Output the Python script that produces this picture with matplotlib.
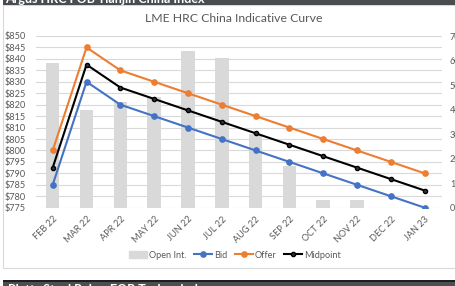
import matplotlib.pyplot as plt
from matplotlib.patches import Rectangle
from matplotlib.lines import Line2D

plt.rcParams['font.family'] = ['Lato', 'DejaVu Sans']

months = ['FEB 22', 'MAR 22', 'APR 22', 'MAY 22', 'JUN 22', 'JUL 22',
          'AUG 22', 'SEP 22', 'OCT 22', 'NOV 22', 'DEC 22', 'JAN 23']
open_int = [59, 40, 43, 45, 64, 61, 30, 17, 3, 3, 0, 0]
bid = [785, 830, 820, 815, 810, 805, 800, 795, 790, 785, 780, 775]
offer = [800, 845, 835, 830, 825, 820, 815, 810, 805, 800, 795, 790]
midpoint = [792.5, 837.5, 827.5, 822.5, 817.5, 812.5, 807.5, 802.5, 797.5, 792.5, 787.5, 782.5]

W, H = 456, 286
fig = plt.figure(figsize=(W / 100, H / 100), dpi=100)

def fx(px):
    return px / W

def fy(py):
    return 1 - py / H

# panel border + header bars (behind the axes)
fig.patches.append(Rectangle((fx(3), fy(267.5)), fx(460), fy(5) - fy(267.5),
                             transform=fig.transFigure, facecolor='white',
                             edgecolor='#d9d9d9', lw=0.8, zorder=-5))
fig.patches.append(Rectangle((fx(3), fy(5)), 1, fy(0) - fy(5) + 0.05,
                             transform=fig.transFigure, facecolor='#4a4d50', lw=0, zorder=-5))
fig.patches.append(Rectangle((fx(3), 0), 1, fy(280.5),
                             transform=fig.transFigure, facecolor='#4a4f52', lw=0, zorder=-5))
fig.patches.append(Rectangle((fx(3), fy(281.5)), 1, fy(280.3) - fy(281.5),
                             transform=fig.transFigure, facecolor='#1e1e1e', lw=0, zorder=-5))
fig.text(fx(5), fy(3.0), 'Argus HRC FOB Tianjin China Index', color='white',
         fontsize=9, fontweight='bold', va='baseline', ha='left')
fig.text(fx(8), fy(283.5), 'Platts Steel Rebar FOB Turkey index', color='white',
         fontsize=9, fontweight='bold', va='top', ha='left')

left, right = fx(35.8), fx(441.6)
bottom, top = fy(207.7), fy(36)
rect = [left, bottom, right - left, top - bottom]

lab = 6.6
ax = fig.add_axes(rect)
ax.set_facecolor('none')
x = range(len(months))
ax.set_xlim(-0.5, len(months) - 0.5)
ax.set_ylim(775, 850)
ax.set_yticks(range(775, 851, 5))
ax.set_yticklabels([f'${v}' for v in range(775, 851, 5)])
ax.grid(axis='y', color='#d9d9d9', lw=0.8)
ax.set_xticks(list(x))
ax.set_xticklabels(months, rotation=45, ha='right', rotation_mode='anchor')
for s in ax.spines.values():
    s.set_visible(False)
ax.tick_params(axis='y', length=0, pad=7, labelsize=lab, labelcolor='#595959')
ax.tick_params(axis='x', length=0, pad=5, labelsize=lab, labelcolor='#595959')

ax2 = ax.twinx()
ax2.bar(list(x), open_int, width=0.4, color='#d9d9d9', zorder=2)
ax2.set_ylim(0, 70)
ax2.set_yticks(range(0, 71, 10))
ax2.tick_params(axis='y', length=0, pad=6, labelsize=lab, labelcolor='#595959')
for s in ax2.spines.values():
    s.set_visible(False)

ax3 = ax.twinx()
ax3.set_ylim(775, 850)
ax3.set_yticks([])
for s in ax3.spines.values():
    s.set_visible(False)
ax3.plot(list(x), bid, color='#4472c4', lw=1.5, marker='o', ms=3.8)
ax3.plot(list(x), offer, color='#ed7d31', lw=1.5, marker='o', ms=3.8)
ax3.plot(list(x), midpoint, color='black', lw=1.5, marker='o', ms=3,
         markerfacecolor='#333333', markeredgecolor='black')

fig.text(fx(234), fy(19), 'LME HRC China Indicative Curve', color='#595959',
         fontsize=8.8, ha='center', va='center')

handles = [Rectangle((0, 0), 1, 1, color='#d9d9d9'),
           Line2D([], [], color='#4472c4', lw=1.5, marker='o', ms=3.8),
           Line2D([], [], color='#ed7d31', lw=1.5, marker='o', ms=3.8),
           Line2D([], [], color='black', lw=1.5, marker='o', ms=3,
                  markerfacecolor='#333333')]
fig.legend(handles, ['Open Int.', 'Bid', 'Offer', 'Midpoint'], loc='center',
           bbox_to_anchor=(fx(235), fy(255)), ncol=4, frameon=False,
           fontsize=lab, labelcolor='#595959', handlelength=2.0,
           handletextpad=0.2, columnspacing=0.8, handleheight=0.9)

fig.savefig('out.png', dpi=100)
